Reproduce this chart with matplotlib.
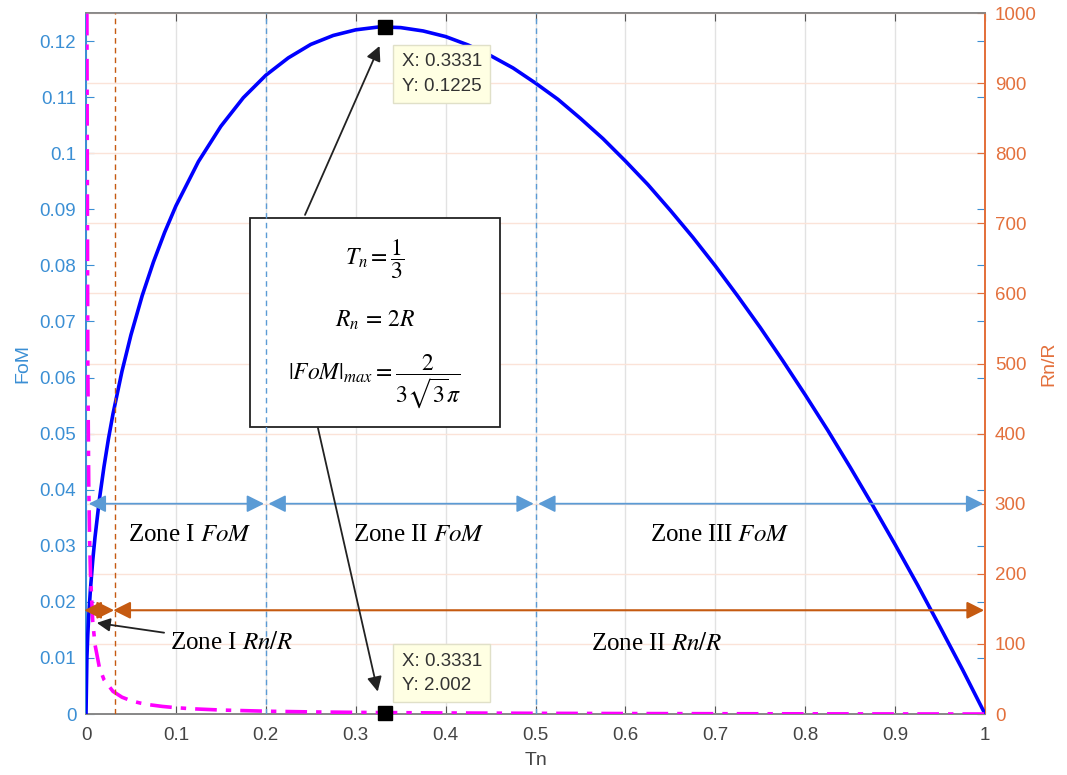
import numpy as np
import matplotlib.pyplot as plt
from matplotlib.patches import Rectangle

plt.rcParams['font.family'] = ['Liberation Sans', 'DejaVu Sans']
plt.rcParams['mathtext.fontset'] = 'stix'

# values
tn_fom = [0, 0.001, 0.002, 0.003, 0.005, 0.0075, 0.01, 0.015, 0.02, 0.025, 0.03, 0.04,
          0.05, 0.0625, 0.075, 0.0875, 0.1, 0.125, 0.15, 0.175, 0.2, 0.225, 0.25, 0.275,
          0.3, 0.325, 0.3331, 0.35, 0.375, 0.4, 0.425, 0.45, 0.475, 0.5, 0.525, 0.55,
          0.575, 0.6, 0.625, 0.65, 0.675, 0.7, 0.725, 0.75, 0.775, 0.8, 0.825, 0.85,
          0.875, 0.9, 0.925, 0.95, 0.975, 1.0]
fom = [0, 0.0101, 0.0142, 0.0174, 0.0224, 0.0274, 0.0315, 0.0384, 0.0441, 0.0491, 0.0535,
       0.0611, 0.0676, 0.0746, 0.0806, 0.0859, 0.0906, 0.0985, 0.1048, 0.1099, 0.1139,
       0.1170, 0.1194, 0.1210, 0.1220, 0.1225, 0.1225, 0.1224, 0.1218, 0.1208, 0.1193,
       0.1174, 0.1152, 0.1125, 0.1096, 0.1062, 0.1026, 0.0986, 0.0944, 0.0898, 0.0850,
       0.0799, 0.0745, 0.0689, 0.0630, 0.0569, 0.0506, 0.0440, 0.0372, 0.0302, 0.0230,
       0.0155, 0.0079, 0]

tn_rn = [0.001, 0.002, 0.003, 0.004, 0.005, 0.0075, 0.01, 0.015, 0.02, 0.03, 0.04, 0.05,
         0.06, 0.07, 0.085, 0.1, 0.12, 0.15, 0.2, 0.25, 0.3, 0.3331, 0.4, 0.5, 0.6, 0.7,
         0.8, 0.9, 1.0]
rn_r = [999, 499, 332, 249, 199, 132, 99, 65.7, 49, 32.3, 24, 19, 15.7, 13.3, 10.8, 9,
        7.33, 5.67, 4, 3, 2.33, 2.002, 1.5, 1, 0.67, 0.43, 0.25, 0.11, 0]

peak_x, peak_fom, peak_rn = 0.3331, 0.1225, 2.002
zone_fom = [0, 0.2, 0.5, 1.0]
zone_rn = [0, 0.0323, 1.0]

blue = '#3b8fd4'
orange = '#e3703c'
gray = '#555555'

fig = plt.figure(figsize=(10.67, 7.75), dpi=100)
ax = fig.add_axes([0.0806, 0.0787, 0.8426, 0.9045])
ax2 = ax.twinx()

ax.set_xlim(0, 1)
ax.set_ylim(0, 0.125)
ax.set_xticks(np.arange(0, 1.01, 0.1))
ax.set_xticklabels(['0', '0.1', '0.2', '0.3', '0.4', '0.5', '0.6', '0.7', '0.8', '0.9', '1'])
ax.set_yticks(np.arange(0, 0.121, 0.01))
ax.set_yticklabels(['0'] + ['%g' % v for v in np.round(np.arange(0.01, 0.121, 0.01), 2)])
ax.grid(axis='x', color='#e2e2e2', lw=1)
ax.tick_params(axis='x', direction='in', colors=gray, labelsize=13.5, top=True, length=6,
               labelcolor='#444444', pad=9)
ax.tick_params(axis='y', direction='in', colors=blue, labelsize=13.5, right=True, length=6,
               pad=7)
ax.set_xlabel('Tn', fontsize=14, color='#444444', labelpad=6)
ax.set_ylabel('FoM', fontsize=14, color=blue, labelpad=6)

ax2.set_axisbelow(True)
ax2.plot(tn_fom, fom, color='#0000ff', lw=2.6, zorder=3, transform=ax.transData)
ax2.plot(tn_rn, rn_r, color='#ff00ff', lw=2.6, dashes=(6, 2.5, 1.5, 2.5), zorder=4)
ax2.set_ylim(0, 1000)
ax2.set_yticks(np.arange(0, 1001, 100))
ax2.grid(axis='y', color='#fbe3d8', lw=1)
ax2.tick_params(axis='y', direction='in', colors=orange, labelsize=13.5, length=6, pad=7)
ax2.set_ylabel('Rn/R', fontsize=14, color=orange, labelpad=3)

for a in (ax, ax2):
    a.spines['top'].set_color('#888888')
    a.spines['bottom'].set_color('#888888')
    a.spines['left'].set_color(blue)
    a.spines['right'].set_color(orange)
    for s in a.spines.values():
        s.set_linewidth(1.3)

ax2.axvline(zone_fom[1], color='#5b9bd5', ls=(0, (4, 3)), lw=1, zorder=6)
ax2.axvline(zone_fom[2], color='#5b9bd5', ls=(0, (4, 3)), lw=1, zorder=6)
ax2.axvline(zone_rn[1], color='#c55a11', ls=(0, (4, 3)), lw=1, zorder=6)

# zone arrows
for a, b in zip(zone_fom[:-1], zone_fom[1:]):
    ax2.annotate('', xy=(b - 0.002, 300), xytext=(a + 0.003, 300),
                 arrowprops=dict(arrowstyle='<|-|>', color='#5b9bd5', lw=1.3,
                                 mutation_scale=26, shrinkA=0, shrinkB=0), zorder=7)
for a, b in zip(zone_rn[:-1], zone_rn[1:]):
    ax2.annotate('', xy=(b - 0.001, 148), xytext=(a - 0.002, 148),
                 arrowprops=dict(arrowstyle='<|-|>', color='#c55a11', lw=1.5,
                                 mutation_scale=26, shrinkA=0, shrinkB=0), zorder=7)

serif = dict(family='Liberation Serif', fontsize=18, ha='center', va='center', zorder=8)
ax2.text(0.115, 255, 'Zone I $FoM$', **serif)
ax2.text(0.37, 255, 'Zone II $FoM$', **serif)
ax2.text(0.705, 255, 'Zone III $FoM$', **serif)
ax2.text(0.635, 100, 'Zone II $Rn/R$', **serif)
ax2.annotate('Zone I $Rn/R$', xy=(0.012, 130), xytext=(0.093, 102),
             fontfamily='Liberation Serif', fontsize=18, va='center', ha='left',
             arrowprops=dict(arrowstyle='-|>', color='#222222', lw=1.3,
                             mutation_scale=20, shrinkA=2, shrinkB=0), zorder=8)

# formula box
ax2.add_patch(Rectangle((0.1824, 410), 0.278, 297, facecolor='white',
                        edgecolor='#222222', lw=1.3, zorder=5))
ax2.text(0.3215, 648, r'$T_n = \dfrac{1}{3}$', fontsize=17, ha='center', va='center', zorder=8)
ax2.text(0.3215, 562, r'$R_n\,=\,2R$', fontsize=17, ha='center', va='center', zorder=8)
ax2.text(0.3215, 474, r'$|FoM|_{max} = \dfrac{2}{3\sqrt{3}\pi}$', fontsize=17,
         ha='center', va='center', zorder=8)

# data tips
ax2.plot([peak_x], [peak_fom * 8000], 's', color='k', ms=10, zorder=9)
ax2.plot([peak_x], [peak_rn], 's', color='k', ms=10, zorder=9, clip_on=False)
tip = dict(fontsize=13.5, color='#333333', ha='left', va='center', zorder=9, linespacing=1.55,
           bbox=dict(boxstyle='square,pad=0.45', facecolor='#ffffe3', edgecolor='#e0e0c8'))
ax2.text(0.351, 913, 'X: %.4f\nY: %.4f' % (peak_x, peak_fom), **tip)
ax2.text(0.351, 58, 'X: %.4f\nY: %.3f' % (peak_x, peak_rn), **tip)

arrow_k = dict(arrowstyle='-|>', color='#222222', lw=1.3, mutation_scale=22, shrinkA=0, shrinkB=0)
ax2.annotate('', xy=(0.3265, 953), xytext=(0.2436, 712), arrowprops=arrow_k, zorder=7)
ax2.annotate('', xy=(0.3245, 32), xytext=(0.258, 408), arrowprops=arrow_k, zorder=7)

fig.savefig('out.png', dpi=100)
